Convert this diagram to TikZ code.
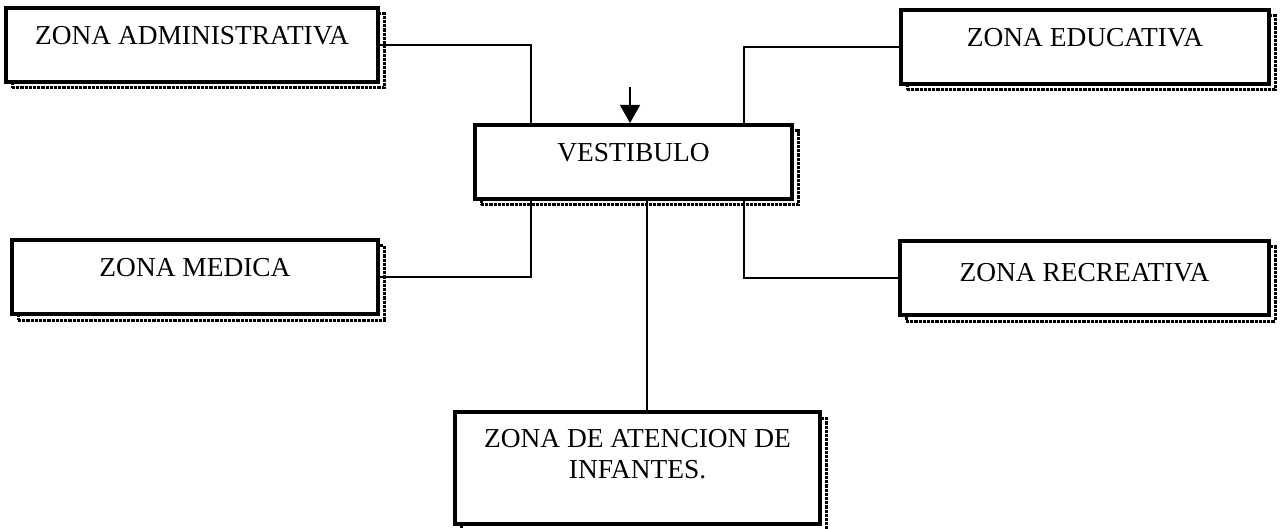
\documentclass[tikz,border=0pt]{standalone}
\usepackage{fontspec}
\setmainfont{Liberation Serif}
\usetikzlibrary{arrows.meta, shadows, positioning}

\begin{document}
\begin{tikzpicture}[x=0.5pt, y=-0.5pt, font=\fontsize{13.7}{15.5}\selectfont,
  zonebox/.style={draw, rectangle, line width=2pt, fill=white, inner sep=0pt, align=center,
    text height=18.5pt, text depth=18.5pt,
    drop shadow={shadow xshift=3pt, shadow yshift=-3pt, fill=none, draw=black, opacity=1,
      dash pattern=on 1.6pt off 0.5pt, line width=1.5pt}},
  link/.style={line width=0.8pt}]
  \useasboundingbox (0,0) rectangle (1284,529);

  % Define positions
  \node (admin) [zonebox, minimum width=186pt] at (192,45) {ZONA ADMINISTRATIVA};
  \node (educ) [zonebox, minimum width=184pt] at (1085,47) {ZONA EDUCATIVA};
  \node (vest) [zonebox, minimum width=158.5pt] at (633.5,162) {VESTIBULO};
  \node (medica) [zonebox, minimum width=183pt] at (195,277) {ZONA MEDICA};
  \node (recr) [zonebox, minimum width=184.5pt, text height=20pt, text depth=17pt] at (1084.5,278) {ZONA RECREATIVA};
  \node (aten) [zonebox, minimum width=182.5pt, text height=33pt, text depth=23pt] at (637.5,468)
    {ZONA DE ATENCION DE\\INFANTES.};

  \coordinate (entry) at (630,87);

  % Connectors
  \draw[link, -{Triangle[width=10pt, length=9pt]}] (entry) -- (entry |- vest.north);
  \draw[link] (admin.east) -| ([xshift=29pt]vest.north west);
  \draw[link] (educ.west) -| ([xshift=135.5pt]vest.north west);
  \draw[link] (medica.east) -| ([xshift=29pt]vest.south west);
  \draw[link] (recr.west) -| ([xshift=135.5pt]vest.south west);
  \draw[link] ([xshift=87pt]vest.south west) -- ([xshift=87pt]vest.south west |- aten.north);
\end{tikzpicture}
\end{document}
